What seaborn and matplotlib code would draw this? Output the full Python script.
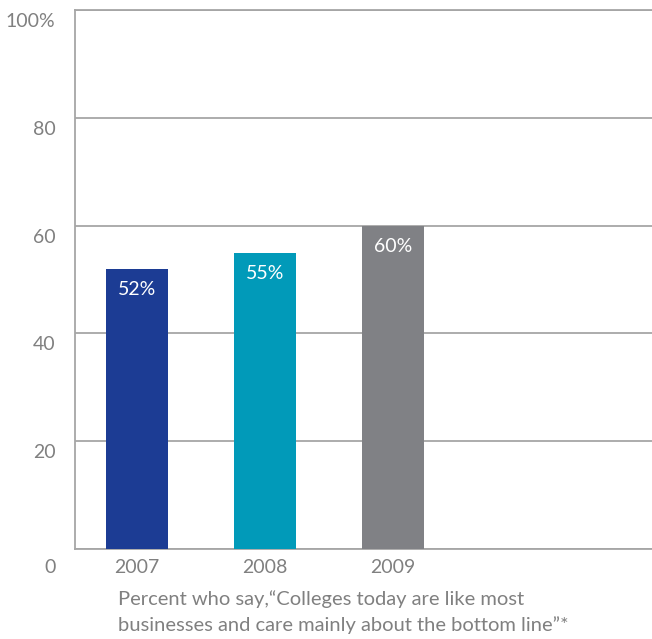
import matplotlib
matplotlib.use('Agg')
import matplotlib.pyplot as plt
import matplotlib.transforms as mtransforms
import seaborn as sns
import pandas as pd

# data
years = ['2007', '2008', '2009']
values = [52, 55, 60]
bar_colors = ['#1c3c94', '#019ab9', '#808185']
yticks = [0, 20, 40, 60, 80, 100]
ytick_labels = ['0', '20', '40', '60', '80', '100%']
caption = 'Percent who say,\u201cColleges today are like most\nbusinesses and care mainly about the bottom line\u201d*'

sns.set_theme(style='white')
plt.rcParams['font.family'] = ['Lato', 'DejaVu Sans']

grey = '#808080'
line_grey = '#a6a6a6'

df = pd.DataFrame({'Year': years, 'Value': values})

fig = plt.figure(figsize=(6.52, 6.39), dpi=100)
ax = fig.add_axes([75 / 652, 90 / 639, 577 / 652, 539 / 639])

sns.barplot(data=df, x='Year', y='Value', hue='Year', palette=bar_colors,
            legend=False, width=0.49, saturation=1, linewidth=0, ax=ax, zorder=3)

ax.set_ylim(0, 100)
ax.set_xlim(-0.484, 4.023)
ax.set_yticks(yticks)
ax.set_yticklabels(ytick_labels)
ax.set_xlabel('')
ax.set_ylabel('')

ax.yaxis.grid(True, color=line_grey, linewidth=1.3)
ax.set_axisbelow(True)
for s in ['left', 'bottom', 'top']:
    ax.spines[s].set_color(line_grey)
    ax.spines[s].set_linewidth(1.3)
ax.spines['right'].set_visible(False)

ax.tick_params(axis='y', length=0, pad=14, labelsize=14, labelcolor=grey)
ax.tick_params(axis='x', length=0, pad=7, labelsize=14, labelcolor=grey)

# y labels sit a bit below their gridlines
for lbl, v in zip(ax.get_yticklabels(), yticks):
    dy = -17 if v == 0 else -10
    lbl.set_transform(lbl.get_transform() + mtransforms.ScaledTranslation(0, dy / 100, fig.dpi_scale_trans))

# value labels inside bars
for patch, v in zip(ax.patches, values):
    ax.annotate(f'{v}%', (patch.get_x() + patch.get_width() / 2, v),
                xytext=(0, -15), textcoords='offset points',
                ha='center', va='center', color='white', fontsize=14)

fig.text(118 / 652, 1 - 590 / 639, caption, ha='left', va='top',
         fontsize=14.5, color=grey, linespacing=1.55)

fig.savefig('out.png', dpi=100)
